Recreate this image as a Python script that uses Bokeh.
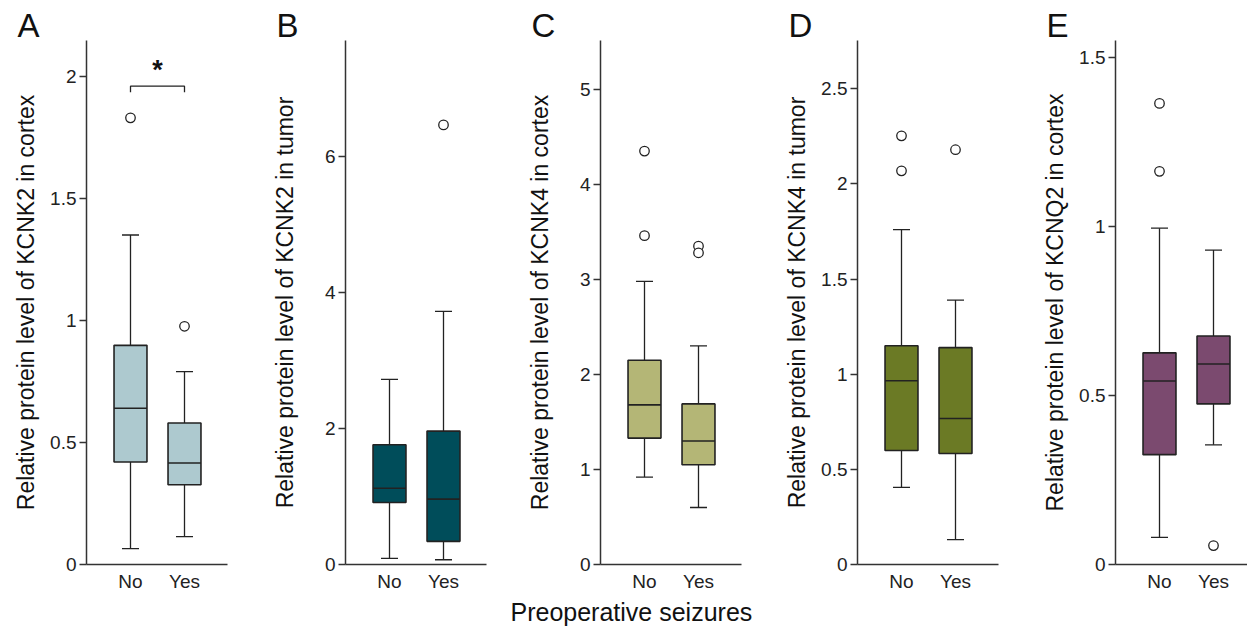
from bokeh.plotting import figure
from bokeh.layouts import row
from bokeh.models import Range1d, FixedTicker, CustomJSTickFormatter, Title
from bokeh.core.properties import value
from bokeh.embed import file_html
from bokeh.resources import INLINE

FONT = "Liberation Sans"

groups = ["No", "Yes"]
x_pos = [1, 2]

letters = ["A", "B", "C", "D", "E"]
ylabels = [
    "Relative protein level of KCNK2 in cortex",
    "Relative protein level of KCNK2 in tumor",
    "Relative protein level of KCNK4 in cortex",
    "Relative protein level of KCNK4 in tumor",
    "Relative protein level of KCNQ2 in cortex",
]
xlabel = "Preoperative seizures"
colors = ["#adc9cf", "#004d5a", "#b4b676", "#6b7a25", "#7b4a6f"]

# box statistics per panel: [No, Yes]
lower_A = [0.065, 0.114]; q1_A = [0.42, 0.327]; med_A = [0.64, 0.416]; q3_A = [0.898, 0.58]; upper_A = [1.35, 0.79]
out_A = [[1.83], [0.976]]
lower_B = [0.09, 0.07]; q1_B = [0.91, 0.34]; med_B = [1.12, 0.96]; q3_B = [1.76, 1.96]; upper_B = [2.72, 3.72]
out_B = [[], [6.46]]
lower_C = [0.92, 0.60]; q1_C = [1.33, 1.05]; med_C = [1.68, 1.30]; q3_C = [2.15, 1.69]; upper_C = [2.98, 2.30]
out_C = [[4.35, 3.46], [3.35, 3.28]]
lower_D = [0.405, 0.131]; q1_D = [0.599, 0.583]; med_D = [0.966, 0.767]; q3_D = [1.15, 1.14]; upper_D = [1.76, 1.39]
out_D = [[2.253, 2.069], [2.18]]
lower_E = [0.08, 0.354]; q1_E = [0.325, 0.475]; med_E = [0.543, 0.593]; q3_E = [0.626, 0.676]; upper_E = [0.995, 0.93]
out_E = [[1.364, 1.163], [0.056]]

yticks_A = [0, 0.5, 1, 1.5, 2]
yticks_B = [0, 2, 4, 6]
yticks_C = [0, 1, 2, 3, 4, 5]
yticks_D = [0, 0.5, 1, 1.5, 2, 2.5]
yticks_E = [0, 0.5, 1, 1.5]

ymax = [2.147, 7.70, 5.514, 2.754, 1.55]

# significance (panel A)
sig_level = 1.96
sig_text = "*"

panels = [
    (lower_A, q1_A, med_A, q3_A, upper_A, out_A, yticks_A),
    (lower_B, q1_B, med_B, q3_B, upper_B, out_B, yticks_B),
    (lower_C, q1_C, med_C, q3_C, upper_C, out_C, yticks_C),
    (lower_D, q1_D, med_D, q3_D, upper_D, out_D, yticks_D),
    (lower_E, q1_E, med_E, q3_E, upper_E, out_E, yticks_E),
]

fig_widths = [267, 233, 279, 258, 210]
left_borders = [86, 78, 100, 78, 78]
label_standoffs = [8, 24, 24, 8, 8]
TOP = 40
FRAME_H = 525
BOTTOM = 61
BOX_W = 0.61
CAP_W = 0.315
PX_PER_UNIT = 54.0
X0 = 1 - 44 / PX_PER_UNIT
INK = "#222222"

figs = []
for i, (lo, q1, med, q3, up, outs, yt) in enumerate(panels):
    fw = fig_widths[i]
    L = left_borders[i]
    frame_w = min(141, fw - L)
    right = fw - L - frame_w
    p = figure(width=fw, height=TOP + FRAME_H + BOTTOM,
               x_range=Range1d(X0, X0 + frame_w / PX_PER_UNIT),
               y_range=Range1d(0, ymax[i]),
               min_border_left=L, min_border_right=right,
               min_border_top=TOP, min_border_bottom=BOTTOM,
               title=letters[i],
               toolbar_location=None, output_backend="svg")
    p.title.align = "left"
    p.title.offset = -69
    p.title.standoff = -7
    p.title.text_font = FONT
    p.title.text_font_size = "33px"
    p.title.text_font_style = "normal"
    p.title.text_color = "#111111"

    p.outline_line_color = None
    p.grid.visible = False
    p.background_fill_color = "white"
    p.border_fill_color = "white"

    # whiskers
    p.segment(x0=x_pos, x1=x_pos, y0=q3, y1=up, line_color=INK, line_width=1.3)
    p.segment(x0=x_pos, x1=x_pos, y0=lo, y1=q1, line_color=INK, line_width=1.3)
    p.segment(x0=[x - CAP_W / 2 for x in x_pos], x1=[x + CAP_W / 2 for x in x_pos],
              y0=up, y1=up, line_color=INK, line_width=1.3)
    p.segment(x0=[x - CAP_W / 2 for x in x_pos], x1=[x + CAP_W / 2 for x in x_pos],
              y0=lo, y1=lo, line_color=INK, line_width=1.3)
    # boxes
    p.quad(left=[x - BOX_W / 2 for x in x_pos], right=[x + BOX_W / 2 for x in x_pos],
           bottom=q1, top=q3, fill_color=colors[i], line_color=INK, line_width=1.6)
    p.segment(x0=[x - BOX_W / 2 for x in x_pos], x1=[x + BOX_W / 2 for x in x_pos],
              y0=med, y1=med, line_color=INK, line_width=1.6)
    # outliers
    ox, oy = [], []
    for x, vals in zip(x_pos, outs):
        for v in vals:
            ox.append(x); oy.append(v)
    if ox:
        p.scatter(ox, oy, marker="circle", size=9.5, fill_color="white",
                  line_color=INK, line_width=1.3)

    if i == 0:
        d = 0.025
        p.line([x_pos[0], x_pos[0], x_pos[1], x_pos[1]],
               [sig_level - d, sig_level, sig_level, sig_level - d],
               line_color=INK, line_width=1.3)
        p.text(x=[(x_pos[0] + x_pos[1]) / 2], y=[sig_level + 0.065], text=[sig_text],
               text_align="center", text_baseline="alphabetic",
               text_font=value(FONT), text_font_size="27px", text_font_style="bold",
               text_color="#111111")

    # axes
    xa = p.xaxis[0]
    xa.ticker = FixedTicker(ticks=x_pos)
    xa.formatter = CustomJSTickFormatter(args=dict(labels=groups),
                                         code="return labels[Math.round(tick) - 1] || '';")
    xa.major_tick_line_color = None
    xa.minor_tick_line_color = None
    xa.major_tick_out = 0
    xa.major_label_standoff = 6
    xa.axis_line_color = "#333333"
    xa.axis_line_width = 1.5
    xa.major_label_text_font = FONT
    xa.major_label_text_font_size = "19px"
    xa.major_label_text_color = INK

    ya = p.yaxis[0]
    ya.ticker = FixedTicker(ticks=yt)
    ya.formatter = CustomJSTickFormatter(code="return tick.toString();")
    ya.minor_tick_line_color = None
    ya.major_tick_out = 7
    ya.major_tick_in = 0
    ya.major_tick_line_color = "#333333"
    ya.major_tick_line_width = 1.3
    ya.major_label_standoff = 3
    ya.axis_line_color = "#333333"
    ya.axis_line_width = 1.5
    ya.major_label_text_font = FONT
    ya.major_label_text_font_size = "19px"
    ya.major_label_text_color = INK
    ya.axis_label = ylabels[i]
    ya.axis_label_text_font = FONT
    ya.axis_label_text_font_style = "normal"
    ya.axis_label_text_font_size = "23px"
    ya.axis_label_text_color = "#111111"
    ya.axis_label_standoff = label_standoffs[i]

    if i == 2:
        p.add_layout(Title(text=xlabel, align="left", offset=-90, standoff=2,
                           text_font=FONT, text_font_size="25px",
                           text_font_style="normal", text_color="#111111"), "below")
    figs.append(p)

layout = row(*figs, spacing=0)
open("out.html", "w").write(file_html(layout, INLINE))
